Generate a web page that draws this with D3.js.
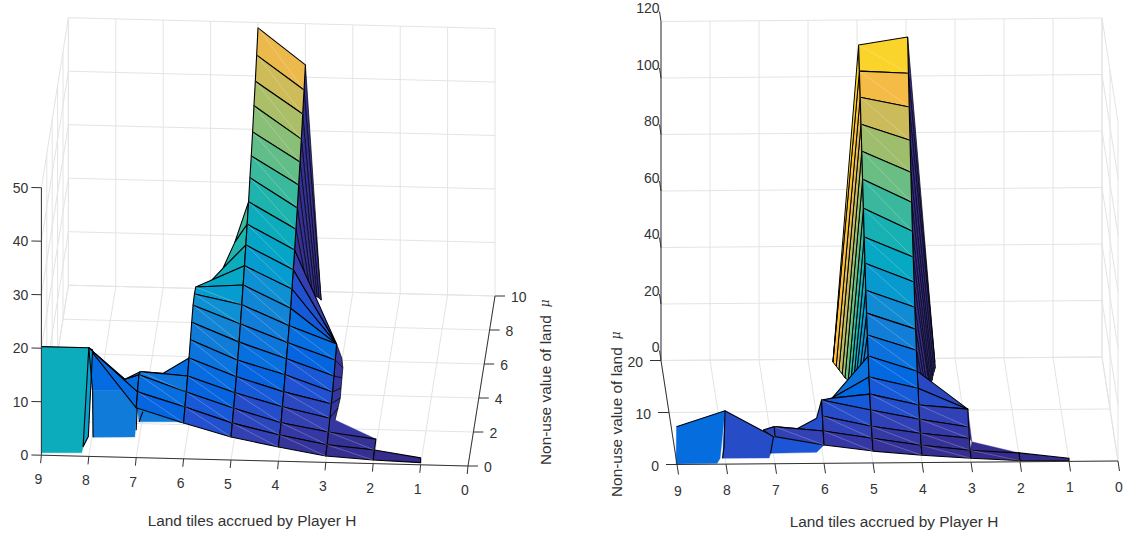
<!DOCTYPE html>
<html>
<head>
<meta charset="utf-8">
<script src="https://cdn.jsdelivr.net/npm/d3@7"></script>
<style>
  html, body { margin: 0; background: #fff; }
  text { font-family: "Liberation Sans", Arial, sans-serif; fill: #333; }
</style>
</head>
<body>
<div id="chart"></div>
<script>
// 1. Data: surface height per land tile, one value per mu row
// left panel: mu rows every 0.5
const leftZ7 = [9.3, 10.7, 12.3, 11.3];
const leftZ6 = [6.7, 8.1, 9.3, 10.7, 12.5, 14.3, 16.0, 17.6, 18.1, 17.8];
const leftZ5 = [4.3, 5.3, 6.5, 7.8, 9.2, 10.7, 12.5, 14.3, 16.3, 18.4, 20.4, 22.7, 25, 27.6, 30.5, 33, 35.9, 39.2, 42.2, 45.5, 49];
const leftZ4 = [2.65, 3.3, 4.0, 5.4, 6.6, 8.2, 9.6, 11, 12.6, 14.3, 16.3, 18.3, 20.4, 22.7, 25.1, 27.8, 30.5, 33.2, 36.3, 39.2, 42.3];
const leftZ3 = [1.2, 1.7, 2.5, 3.5, 4.6, 5.2, 6.6, 8.0, 9.4];
const leftZ2 = [0.67, 0.95, 1.4];
const leftZ1 = [0.4, 1.3];
// back side of the ridge, rows 10..19: tile position and height
const leftSideT = [3.77, 3.75, 3.74, 3.72, 3.71, 3.7, 3.68, 3.67, 3.66, 3.64];
const leftSideZ = [14.9, 13.3, 11.7, 10.1, 8.5, 6.9, 5.3, 3.8, 2, 0];
// small folds behind tile 3, rows 2..8
const leftFoldT = [2.86, 2.83, 2.81, 2.82, 2.83, 2.84, 2.89];
const leftFoldZ = [4.8, 5.4, 5.7, 6.0, 6.3, 6.6, 6.8];
// rim of the slope between tile 6 and tile 5, rows 10..12
const leftRimT = [5.69, 5.48, 5.26];
const leftRimZ = [17.6, 18.3, 21.6];
// shades of the fan between tile 4 and tile 3
const leftFanShade = [8, 5.5, 4.5, 2.5];

// right panel: mu rows every 1
const rightZ7 = [9.6, 11.3];
const rightZ6 = [6.5, 9.6, 13.1, 16.9];
const rightZ5 = [4.2, 6.9, 9.3, 13.2, 17, 21.2, 26.8, 32.4, 38.3, 44.6, 52.3, 59.7, 68.1, 76.5, 84.6, 92.3, 100, 107.4, 114.8];
const rightZ4 = [2.6, 4.3, 6.7, 9.8, 13, 17.1, 21.3, 26.9, 32.5, 38.4, 45.5, 52.5, 59.8, 68.2, 77, 86.5, 96.4, 106.5, 117.5];
const rightZ3 = [1.4, 2.4, 4.8, 6.9, 11.4];
const rightZ2 = [0.4, 1.3];
const rightZ1 = [0.2, 1.1];
// flanks of the peak, rows 6..17
const rightFlankT = [5.04, 5.09, 5.13, 5.18, 5.22, 5.27, 5.31, 5.36, 5.40, 5.45, 5.49, 5.54];
const rightFlankZ = [25.4, 21.8, 18.9, 16.4, 12.8, 9.2, 7.3, 6.2, 5.8, 5.4, 4.9, 4.5];
const rightSideT = [3.92, 3.87, 3.81, 3.75, 3.69, 3.66, 3.62, 3.58, 3.55, 3.51, 3.47, 3.46];
const rightSideZ = [17.1, 14.9, 12.7, 10.5, 8.7, 7.2, 6, 5.2, 4.8, 4.4, 3.9, 4.2];

// 2. Tick labels and titles
const tileTicks = [9, 8, 7, 6, 5, 4, 3, 2, 1, 0];
const leftMuTicks = [0, 2, 4, 6, 8, 10];
const rightMuTicks = [0, 10, 20];
const leftZTicks = [0, 10, 20, 30, 40, 50];
const rightZTicks = [0, 20, 40, 60, 80, 100, 120];
const xTitle = "Land tiles accrued by Player H";
const muTitle = "Non-use value of land";

// parula colormap, every third step
const parula = ["#352a87", "#353dad", "#2053d4", "#0268e1", "#0d75dc", "#1480d6", "#108ed2", "#079ccf", "#06a7c6", "#0faeb9", "#25b5a9",
  "#42ba98", "#65be86", "#87bf77", "#a5be6b", "#c0bc60", "#d9ba56", "#f1b94a", "#ffc337", "#fad32a", "#f5e41d", "#f9fb0e"];
const parulaFull = d3.scaleLinear()
  .domain(parula.map((d, i) => i / (parula.length - 1)))
  .range(parula)
  .clamp(true);

// 3. Helpers
const svg = d3.select("#chart").append("svg").attr("width", 1129).attr("height", 535);

// one column of the surface as [tile, mu, z] points
function column(tile, zs, step) {
  return zs.map((z, i) => [tile, i * step, z]);
}
// offset-rows column: t and z change per row
function sideColumn(ts, zs, firstRow, step) {
  const out = {};
  ts.forEach((t, k) => { out[firstRow + k] = [t, (firstRow + k) * step, zs[k]]; });
  return out;
}

function drawPanel(p, patches, lines) {
  const g = svg.append("g");
  const px = d => p.xTile(d[0]) + p.xMu(d[1]);
  const py = d => p.yTile(d[0]) + p.yMu(d[1]) + p.yZ(d[2]);
  const path = d3.line().x(px).y(py);
  const color = z => parulaFull(z / p.zMax);

  // walls and floor grid
  const grid = g.append("g").attr("fill", "none").attr("stroke", "#e4e4e4").attr("stroke-width", 1);
  const seg = pts => grid.append("path").attr("d", path(pts));
  tileTicks.forEach(t => {
    seg([[t, 0, 0], [t, p.muMax, 0], [t, p.muMax, p.zTop]]);
  });
  p.muTicks.forEach(m => {
    seg([[p.tFar, m, p.zTop], [p.tFar, m, 0], [p.tNear, m, 0]]);
  });
  p.zTicks.forEach(z => {
    seg([[p.tFar, 0, z], [p.tFar, p.muMax, z], [p.tNear, p.muMax, z]]);
  });

  // surface patches, back to front
  g.append("g").selectAll("path").data(patches).enter().append("path")
    .attr("d", d => path(d.pts) + "Z")
    .attr("fill", d => color(d.c))
    .attr("stroke", d => d.edge ? "#000" : color(d.c))
    .attr("stroke-width", d => d.edge ? (d.thin || 1.1) : 0.4)
    .attr("stroke-linejoin", "round");

  // faint seam of each quad
  g.append("g").selectAll("path").data(patches.filter(d => d.seam)).enter().append("path")
    .attr("d", d => path([d.pts[2], d.pts[0]]))
    .attr("fill", "none")
    .attr("stroke", "#fff")
    .attr("stroke-opacity", 0.32)
    .attr("stroke-width", 0.7);

  // single black edges
  g.append("g").selectAll("path").data(lines).enter().append("path")
    .attr("d", d => path(d))
    .attr("fill", "none")
    .attr("stroke", "#000")
    .attr("stroke-width", 1.1);

  // axes
  const axes = g.append("g").attr("fill", "none").attr("stroke", "#333").attr("stroke-width", 1);
  axes.append("path").attr("d", path(p.xAxis));
  axes.append("path").attr("d", path(p.muAxis));
  axes.append("path").attr("d", path(p.zAxis));

  const tickLen = g.append("g").attr("stroke", "#333").attr("stroke-width", 1);
  const labels = g.append("g").attr("font-size", 14);

  tileTicks.forEach(t => {
    const a = [t, 0, 0];
    tickLen.append("line")
      .attr("x1", px(a)).attr("y1", py(a))
      .attr("x2", px(a) + p.xTick[0]).attr("y2", py(a) + p.xTick[1]);
    labels.append("text")
      .attr("x", px(a) + p.xLabel[0]).attr("y", py(a) + p.xLabel[1])
      .attr("text-anchor", "middle").attr("dominant-baseline", "central")
      .text(t);
  });
  p.muTicks.forEach(m => {
    const a = [p.tAxisMu, m, 0];
    tickLen.append("line")
      .attr("x1", px(a)).attr("y1", py(a))
      .attr("x2", px(a) + p.muTick[0]).attr("y2", py(a) + p.muTick[1]);
    labels.append("text")
      .attr("x", px(a) + p.muLabel[0]).attr("y", py(a) + p.muLabel[1])
      .attr("text-anchor", p.muAnchor).attr("dominant-baseline", "central")
      .text(m);
  });
  p.zTicks.forEach(z => {
    const a = [p.tAxisZ, p.muAxisZ, z];
    tickLen.append("line")
      .attr("x1", px(a)).attr("y1", py(a))
      .attr("x2", px(a) + p.zTick[0]).attr("y2", py(a) + p.zTick[1]);
    labels.append("text")
      .attr("x", px(a) + p.zLabel[0]).attr("y", py(a) + p.zLabel[1])
      .attr("text-anchor", "end").attr("dominant-baseline", "central")
      .text(z);
  });

  // axis titles
  g.append("text")
    .attr("x", p.xTitle[0]).attr("y", p.xTitle[1])
    .attr("text-anchor", "middle").attr("dominant-baseline", "central")
    .attr("font-size", 15.4)
    .text(xTitle);
  const mt = g.append("text")
    .attr("transform", `translate(${p.muTitle[0]},${p.muTitle[1]}) rotate(-90)`)
    .attr("dominant-baseline", "central")
    .attr("font-size", 15.4);
  mt.append("tspan").text(muTitle);
  mt.append("tspan").attr("dx", 8).attr("font-style", "italic").attr("font-size", 12)
    .attr("font-family", "DejaVu Serif").text("\u03bc");
}

// quads between a lower tile column and a higher tile column, coloured by the lower one
function strip(low, high, rows) {
  const out = [];
  for (let i = rows - 1; i >= 0; i--) {
    out.push({ pts: [high[i + 1], low[i + 1], low[i], high[i]], c: low[i][2], edge: true, seam: true });
  }
  return out;
}

// 4. Left panel
const L7 = column(7, leftZ7, 0.5);
const L6 = column(6, leftZ6, 0.5);
const L5 = column(5, leftZ5, 0.5);
const L4 = column(4, leftZ4, 0.5);
const L3 = column(3, leftZ3, 0.5);
const L2 = column(2, leftZ2, 0.5);
const L1 = [[1, 0, leftZ1[0]], [1, 0, leftZ1[1]]];
const LSide = sideColumn(leftSideT, leftSideZ, 10, 0.5);
const LFold = sideColumn(leftFoldT, leftFoldZ, 2, 0.5);
const LRim = sideColumn(leftRimT, leftRimZ, 10, 0.5);

const leftPatches = [];
// vertical block at tiles 9-8
const lBlock = [[9, 0, 20.3], [8, 0, 20.3], [8.12, 0, 1.8], [8.15, 0, 0.65], [9, 0, 0.45]];
const lHigh = [7.92, 0, 12.4];
leftPatches.push({ pts: lBlock, c: 20.3 });
leftPatches.push({ pts: [[7.92, 0, 12.4], [7.91, 0, 3.6], [7.03, 0, 3.85], [6.98, 0, 9.3], [6.96, 0, 12.6]], c: 10.5 });
leftPatches.push({ pts: [[8, 0, 20.3], lHigh, [6.96, 0, 12.6]], c: 7.5 });
leftPatches.push({ pts: [[8, 0, 20.3], L7[1], L7[0]], c: 7.5, edge: true });
leftPatches.push({ pts: [[8, 0, 20.3], [7.92, 0, 19.9], [8.01, 0, 3.7], [8.12, 0, 1.8]], c: 17, edge: true });
leftPatches.push({ pts: [[6.98, 0, 9.3], [6.94, 0, 6.7], [6.15, 0, 6.9], L6[0]], c: 10.5 });
leftPatches.push({ pts: [L7[3], [6.43, 0, 15.9], L6[4], L6[3]], c: 8, edge: true });
leftPatches.push({ pts: [[8, 0, 20.3], [7.24, 0, 14.6], L7[2], L7[1]], c: 8, edge: true });
leftPatches.push({ pts: [[7.24, 0, 14.6], L7[3], L7[2]], c: 8, edge: true });
leftPatches.push(...strip(L6, L7, 3));
// dark back of the ridge
for (let i = 19; i >= 10; i--) {
  const next = i === 19 ? L4[20] : LSide[i + 1];
  leftPatches.push({ pts: [L4[i + 1], L4[i], LSide[i], next], c: 0.8, edge: true, thin: 0.7 });
}
for (let i = 7; i >= 2; i--) {
  leftPatches.push({ pts: [L3[i + 1], L3[i], LFold[i], LFold[i + 1]], c: 1.5, edge: true, thin: 0.7 });
}
leftPatches.push({ pts: [L3[3], LFold[2], L2[2], L3[2]], c: 1.5 });
// fans
for (let k = 3; k >= 0; k--) {
  leftPatches.push({ pts: [L4[8 + k], L4[9 + k], L3[8]], c: leftFanShade[k], edge: true });
}
const rim = [L6[9], LRim[10], LRim[11], LRim[12], L5[13]];
for (let k = 3; k >= 0; k--) {
  leftPatches.push({ pts: [rim[k], rim[k + 1], L5[10 + k], L5[9 + k]], c: leftZ5[9 + k], edge: true });
}
leftPatches.push(...strip(L5, L6, 9));
leftPatches.push(...strip(L4, L5, 20));
leftPatches.push(...strip(L3, L4, 8));
leftPatches.push(...strip(L2, L3, 2));
leftPatches.push({ pts: [L2[1], L1[1], L1[0], L2[0]], c: 0.3, edge: true });

const leftLines = [
  [[9, 0, 20.3], [8, 0, 20.3]],
  [[8, 0, 20.3], [7.92, 0, 12.4]],
  [[7.92, 0, 12.4], [7.91, 0, 3.6]],
  [[6.98, 0, 9.3], [7, 0, 5.1]],
  [[6.86, 0, 8.6], [6.94, 0, 6.7]]
];

drawPanel({
  xTile: d3.scaleLinear([0, 9], [468, 41.4]),
  yTile: d3.scaleLinear([0, 9], [466, 455.2]),
  xMu: d3.scaleLinear([0, 10], [0, 27]),
  yMu: d3.scaleLinear([0, 10], [0, -170]),
  yZ: d3.scaleLinear([0, 50], [0, -267.5]),
  zMax: 49, muMax: 10, zTop: 50,
  tFar: 9, tNear: 0, tAxisMu: 0, tAxisZ: 9, muAxisZ: 0,
  muTicks: leftMuTicks, zTicks: leftZTicks,
  xAxis: [[9, 0, 0], [0, 0, 0]],
  muAxis: [[0, 0, 0], [0, 10, 0]],
  zAxis: [[9, 0, 0], [9, 0, 50]],
  xTick: [-0.8, 8], xLabel: [-3, 24],
  muTick: [10, 0], muLabel: [16, 1], muAnchor: "start",
  zTick: [-10, -0.2], zLabel: [-13, 0],
  xTitle: [252, 520], muTitle: [545, 465]
}, leftPatches, leftLines);

// 5. Right panel
const R7 = column(7, rightZ7, 1);
const R6 = column(6, rightZ6, 1);
const R5 = column(5, rightZ5, 1);
const R4 = column(4, rightZ4, 1);
const R3 = column(3, rightZ3, 1);
const R2 = column(2, rightZ2, 1);
const R1 = [[1, 0, rightZ1[0]], [1, 0, rightZ1[1]]];
const RFlank = sideColumn(rightFlankT, rightFlankZ, 6, 1);
const RSide = sideColumn(rightSideT, rightSideZ, 6, 1);
const rTip = [5.77, 4, 15.7];

const rightPatches = [];
rightPatches.push({ pts: [[9.01, 0, 13.4], [8.02, 0, 18.9], [8.12, 0, 2.1], [8.18, 0, 0.3], [9.02, 0, 0.2]], c: 18.9 });
rightPatches.push({ pts: [[8.02, 0, 18.9], [8.07, 0, 2.1], [7.12, 0, 2.05], [7.09, 0, 3.7], [7.03, 0, 9.6]], c: 9.3 });
rightPatches.push({ pts: [[7.03, 0, 9.6], [7.09, 0, 3.7], [6.15, 0, 3.9], R6[0]], c: 12 });
rightPatches.push({ pts: [[7.24, 0, 12], R7[1], R7[0]], c: 8 });
rightPatches.push({ pts: [R7[1], [6.56, 0, 12.2], [6.15, 0, 16], R6[3], R6[1]], c: 10, edge: true });
rightPatches.push(...strip(R6, R7, 1));
// flanks of the peak
for (let i = 6; i <= 17; i++) {
  const next = i === 17 ? R5[18] : RFlank[i + 1];
  rightPatches.push({ pts: [R5[i + 1], R5[i], RFlank[i], next], c: rightZ5[i], edge: true, thin: 1 });
}
for (let i = 17; i >= 6; i--) {
  const next = i === 17 ? R4[18] : RSide[i + 1];
  rightPatches.push({ pts: [R4[i + 1], R4[i], RSide[i], next], c: 1, edge: true, thin: 0.7 });
}
const rFold = [2.95, 2, 3.5];
rightPatches.push({ pts: [R3[4], rFold, R3[2]], c: 1 });
rightPatches.push({ pts: [rFold, R2[1], R3[1]], c: 1 });
// fans next to tile 5 and tile 3
rightPatches.push({ pts: [R5[6], R5[5], rTip], c: rightZ5[5], edge: true });
rightPatches.push({ pts: [R5[5], R5[4], rTip], c: rightZ5[4], edge: true });
rightPatches.push({ pts: [R5[4], R5[3], R6[3], rTip], c: rightZ5[3], edge: true });
rightPatches.push({ pts: [R4[6], R4[5], R3[4]], c: 8.5, edge: true });
rightPatches.push({ pts: [R4[5], R4[4], R3[4]], c: 9.5, edge: true });
rightPatches.push(...strip(R5, R6, 3));
rightPatches.push(...strip(R4, R5, 18));
rightPatches.push(...strip(R3, R4, 4));
rightPatches.push(...strip(R2, R3, 1));
rightPatches.push({ pts: [R2[1], R1[1], R1[0], R2[0]], c: 0.8, edge: true });

const rightLines = [
  [[9.01, 0, 13.4], [8.02, 0, 18.9], [7.03, 0, 9.6]],
  [[8.02, 0, 18.9], [8.04, 0, 6.1], [8.07, 0, 2.1]],
  [[7.03, 0, 9.6], [7.09, 0, 3.7]],
  [[7.24, 0, 12], R7[1]],
  [[7.24, 0, 12], [7.03, 0, 9.6]]
];

drawPanel({
  xTile: d3.scaleLinear([0, 9], [1118, 677]),
  yTile: d3.scaleLinear([0, 9], [461, 464.5]),
  xMu: d3.scaleLinear([0, 20], [0, -16]),
  yMu: d3.scaleLinear([0, 20], [0, -104]),
  yZ: d3.scaleLinear([0, 120], [0, -339]),
  zMax: 117.5, muMax: 20, zTop: 120,
  tFar: 0, tNear: 9, tAxisMu: 9, tAxisZ: 9, muAxisZ: 20,
  muTicks: rightMuTicks, zTicks: rightZTicks,
  xAxis: [[9, 0, 0], [0, 0, 0]],
  muAxis: [[9, 0, 0], [9, 20, 0]],
  zAxis: [[9, 20, 0], [9, 20, 120]],
  xTick: [1.5, 10], xLabel: [1, 26],
  muTick: [-11, 0], muLabel: [-18, 1.5], muAnchor: "end",
  zTick: [-1.5, -10], zLabel: [-1.5, -13.5],
  xTitle: [894, 521], muTitle: [616, 497]
}, rightPatches, rightLines);
</script>
</body>
</html>
